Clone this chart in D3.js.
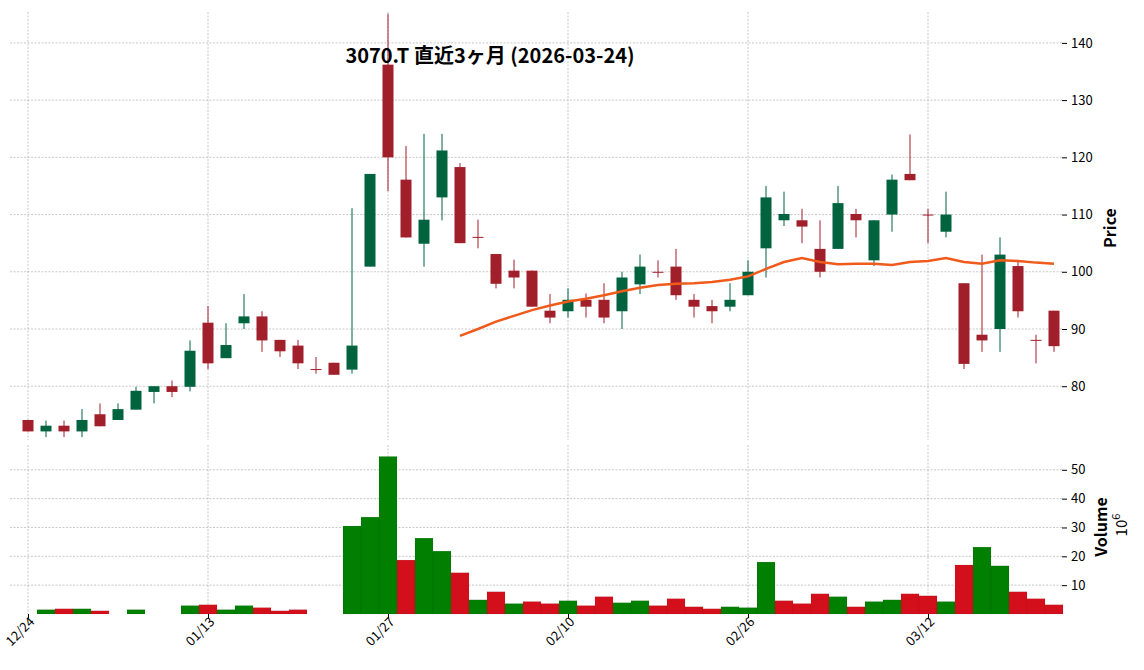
<!DOCTYPE html>
<html><head><meta charset="utf-8">
<script src="https://cdn.jsdelivr.net/npm/d3@7"></script>
<style>body{margin:0;background:#fff;font-family:"Noto Sans CJK JP","Noto Sans",sans-serif}</style>
</head><body><svg id="c" width="1144" height="670"></svg>
<script>
var dates = ["12/24","12/25","12/26","12/29","12/30","01/05","01/06","01/07","01/08","01/09",
  "01/13","01/14","01/15","01/16","01/19","01/20","01/21","01/22","01/23","01/26",
  "01/27","01/28","01/29","01/30","02/02","02/03","02/04","02/05","02/06","02/09",
  "02/10","02/12","02/13","02/16","02/17","02/18","02/19","02/20","02/24","02/25",
  "02/26","02/27","03/02","03/03","03/04","03/05","03/06","03/09","03/10","03/11",
  "03/12","03/13","03/16","03/17","03/18","03/19","03/23","03/24"];
var opens  = [74.1,72.1,73.1,72.1,75.1,74.1,75.9,79.0,80.0,79.9, 91.1,84.9,91.0,92.2,88.1,87.1,83.0,84.1,82.9,100.9,
  136.2,116.1,104.9,113.0,118.3,106.1,103.1,100.2,100.2,93.2, 93.1,95.1,95.1,93.1,97.8,100.0,100.9,95.1,94.0,93.9,
  95.9,104.1,109.0,109.0,104.0,104.0,110.1,102.0,110.0,117.1, 110.0,107.0,98.0,89.0,90.0,101.0,88.1,93.2];
var highs  = [74.1,74.0,74.0,76.0,77.0,77.0,79.9,80.0,81.0,88.0, 94.0,91.0,96.1,93.1,88.1,88.1,85.1,84.1,111.1,117.1,
  145.1,122.0,124.1,124.1,119.0,109.1,103.1,102.1,100.2,96.1, 97.1,96.2,98.0,100.0,103.0,102.0,104.0,96.1,95.1,98.0,
  102.0,115.0,114.0,111.0,109.0,115.0,111.0,109.0,117.0,124.0, 111.0,114.0,98.0,103.0,106.0,102.0,89.0,93.2];
var lows   = [72.1,71.1,71.1,71.1,73.0,74.1,75.9,77.0,78.1,79.1, 83.0,85.1,90.0,86.0,85.1,83.0,82.2,82.0,82.2,100.9,
  114.1,106.0,100.9,109.0,105.0,104.1,97.1,97.1,93.9,91.0, 92.0,92.0,91.0,90.0,96.1,99.0,95.1,92.0,91.0,93.1,
  95.9,99.0,108.0,105.0,99.0,104.0,106.0,101.0,107.0,116.0, 105.0,106.0,83.0,86.0,86.0,92.0,84.0,86.0];
var closes = [72.1,73.1,72.1,74.1,73.0,76.0,79.2,80.0,79.0,86.2, 84.0,87.2,92.2,88.0,86.1,84.0,83.0,82.0,87.1,117.1,
  120.0,106.0,109.1,121.2,105.0,106.1,97.9,99.0,93.9,92.0, 95.1,93.9,92.0,99.0,100.9,100.0,95.9,93.9,93.1,95.1,
  100.0,113.0,110.1,107.9,100.0,112.0,109.0,109.0,116.1,116.0, 110.0,110.0,83.9,88.0,103.0,93.1,88.1,87.0];
var volumes = [0,1.5,1.8,1.8,1.1,0,1.5,0,0,2.9, 3.2,1.5,2.9,2.2,1.1,1.5,0,0,30.5,33.6,
  54.6,18.7,26.3,21.8,14.3,4.9,7.7,3.6,4.3,3.6, 4.6,2.9,6.0,3.9,4.6,2.9,5.3,2.5,1.8,2.5,
  2.2,18.0,4.6,3.6,7.0,6.0,2.5,4.3,4.9,7.0, 6.3,4.3,17.0,23.2,16.7,7.7,5.3,3.2];
// 25-day moving average (starts at index 24)
var maStart = 24;
var maValues = [88.8,90.0,91.3,92.3,93.3,94.1, 94.8,95.3,95.9,96.6,97.2,97.7,97.9,98.0,98.2,98.6,
  99.2,100.5,101.7,102.4,101.7,101.3,101.4,101.4,101.2,101.7, 101.9,102.4,101.7,101.4,102.0,101.9,101.6,101.4];
var priceTicks = [80,90,100,110,120,130,140];
var volTicks = [10,20,30,40,50];
var dateTicks = [0,10,20,30,40,50];

var svg = d3.select("#c");
var left = 10, right = 1062;
var x = d3.scaleLinear().domain([0, dates.length - 1]).range([28, 1054]);
var yP = d3.scaleLinear().domain([70.6, 145.4]).range([440, 12]);
var yV = d3.scaleLinear().domain([0, 58.6]).range([614, 445]);

var grid = svg.append("g").attr("stroke","#b0b0b0").attr("stroke-width",0.7).attr("stroke-dasharray","2,1.5");
dateTicks.forEach(function(i){
  grid.append("line").attr("x1",x(i)).attr("x2",x(i)).attr("y1",12).attr("y2",440);
  grid.append("line").attr("x1",x(i)).attr("x2",x(i)).attr("y1",445).attr("y2",614);
});
priceTicks.forEach(function(t){
  grid.append("line").attr("x1",left).attr("x2",right).attr("y1",yP(t)).attr("y2",yP(t));
});
volTicks.forEach(function(t){
  grid.append("line").attr("x1",left).attr("x2",right).attr("y1",yV(t)).attr("y2",yV(t));
});

// volume
var bw = x(1) - x(0);
svg.append("g").selectAll("rect").data(volumes).join("rect")
  .attr("x",function(d,i){return x(i)-bw/2;})
  .attr("width",bw)
  .attr("y",function(d){return yV(d);})
  .attr("height",function(d){return yV(0)-yV(d);})
  .attr("fill",function(d,i){return (i>0 && closes[i]>=closes[i-1]) ? "#007f00" : "#d40f1c";})
  .attr("stroke",function(d,i){return d>0 ? "rgba(0,0,0,0.15)" : "none";})
  .attr("stroke-width",0.4);

// candles
var cg = svg.append("g");
dates.forEach(function(d,i){
  var up = closes[i] > opens[i];
  var col = up ? "#006340" : "#a11f2a";
  cg.append("line").attr("x1",x(i)).attr("x2",x(i))
    .attr("y1",yP(highs[i])).attr("y2",yP(lows[i])).attr("stroke",col).attr("stroke-width",1);
  var top = yP(Math.max(opens[i],closes[i])), bot = yP(Math.min(opens[i],closes[i]));
  cg.append("rect").attr("x",x(i)-5.5).attr("width",11)
    .attr("y",top).attr("height",Math.max(bot-top,1)).attr("fill",col);
});

// moving average
var maLine = d3.line().x(function(d,i){return x(i+maStart);}).y(function(d){return yP(d);});
svg.append("path").attr("d",maLine(maValues)).attr("fill","none")
  .attr("stroke","#f05a1a").attr("stroke-width",2.5);

// axes
var axP = d3.axisRight(yP).tickValues(priceTicks).tickSize(5).tickPadding(4);
var gP = svg.append("g").attr("transform","translate("+right+",0)").call(axP);
var axV = d3.axisRight(yV).tickValues(volTicks).tickSize(5).tickPadding(4);
var gV = svg.append("g").attr("transform","translate("+right+",0)").call(axV);
[gP,gV].forEach(function(g){
  g.select(".domain").remove();
  g.selectAll("text").attr("font-size",13).attr("font-family","Noto Sans CJK JP").attr("fill","#000");
});
var axX = d3.axisBottom(x).tickValues(dateTicks).tickFormat(function(i){return dates[i];}).tickSize(4);
var gX = svg.append("g").attr("transform","translate(0,614)").call(axX);
gX.select(".domain").remove();
gX.selectAll("text").attr("font-size",13).attr("font-family","Noto Sans CJK JP")
  .attr("text-anchor","end").attr("dx","-0.1em").attr("dy","0.3em")
  .attr("transform","rotate(-45)");

svg.append("text").attr("x",490).attr("y",63).attr("text-anchor","middle")
  .attr("font-size",20).attr("font-weight","bold").text("3070.T  直近3ヶ月  (2026-03-24)");
svg.append("text").attr("transform","translate(1116,228) rotate(-90)").attr("text-anchor","middle")
  .attr("font-size",16).attr("font-weight","bold").text("Price");
svg.append("text").attr("transform","translate(1107,527) rotate(-90)").attr("text-anchor","middle")
  .attr("font-size",16).attr("font-weight","bold").text("Volume");
svg.append("text").attr("transform","translate(1127,525) rotate(-90)").attr("text-anchor","middle")
  .attr("font-size",15).html("10<tspan dy='-7' font-size='11'>6</tspan>");
</script></body></html>
